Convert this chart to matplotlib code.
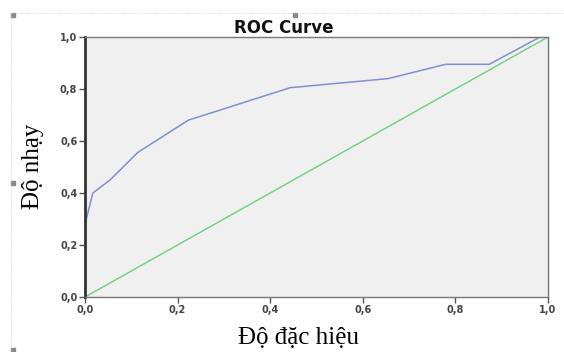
import matplotlib.pyplot as plt
from matplotlib.lines import Line2D
from matplotlib.patches import Rectangle

# ROC curve points (1 - specificity, sensitivity)
fpr = [0.0, 0.0, 0.017, 0.054, 0.114, 0.223, 0.443, 0.655, 0.779, 0.873, 0.983, 1.0]
tpr = [0.0, 0.28, 0.40, 0.45, 0.556, 0.68, 0.805, 0.84, 0.895, 0.895, 1.0, 1.0]
ref_line = [0.0, 1.0]  # reference diagonal
ticks = [0.0, 0.2, 0.4, 0.6, 0.8, 1.0]
tick_labels = ["0,0", "0,2", "0,4", "0,6", "0,8", "1,0"]

fig = plt.figure(figsize=(5.64, 3.52), dpi=100)
ax = fig.add_axes([85 / 564, 55 / 352, 463 / 564, 260 / 352])
ax.set_facecolor("#f0f0f0")

ax.plot(ref_line, ref_line, color="#6fcf7f", lw=1.0)
ax.plot(fpr, tpr, color="#7f8fcf", lw=1.1)

ax.set_xlim(0, 1)
ax.set_ylim(0, 1)
ax.set_xticks(ticks)
ax.set_xticklabels(tick_labels)
ax.set_yticks(ticks)
ax.set_yticklabels(tick_labels)
ax.tick_params(direction="out", length=4, width=1, color="#555555",
               labelsize=7, labelcolor="#444444", pad=1.5)
for lab in ax.get_xticklabels() + ax.get_yticklabels():
    lab.set_fontweight("bold")

for side in ["top", "right", "bottom"]:
    ax.spines[side].set_color("#777777")
    ax.spines[side].set_linewidth(1.0)
ax.spines["left"].set_color("#333333")
ax.spines["left"].set_linewidth(2.0)

fig.text(284 / 564, 1 - 28 / 352, "ROC Curve", ha="center", va="center",
         fontsize=12, fontweight="bold", color="#111111")

fig.text(298 / 564, 1 - 338 / 352, "Độ đặc hiệu", ha="center", va="center",
         fontsize=18, family="Liberation Serif")
fig.text(33 / 564, 1 - 166 / 352, "Độ nhạy", ha="center", va="center",
         rotation=90, fontsize=18, family="Liberation Serif")

# dotted chart frame and small handles like the editor screenshot
fig.add_artist(Line2D([11 / 564, 1], [1 - 13 / 352, 1 - 13 / 352], color="#cccccc",
                      lw=0.6, ls=":", transform=fig.transFigure))
fig.add_artist(Line2D([11 / 564, 11 / 564], [0, 1 - 13 / 352], color="#cccccc",
                      lw=0.6, ls=":", transform=fig.transFigure))
for hx, hy in [(13, 15), (295, 15), (13, 183), (13, 350)]:
    fig.add_artist(Rectangle(((hx - 2) / 564, 1 - (hy + 2) / 352), 4 / 564, 4 / 352,
                             color="#888888", transform=fig.transFigure))

fig.savefig("out.png", dpi=100)
